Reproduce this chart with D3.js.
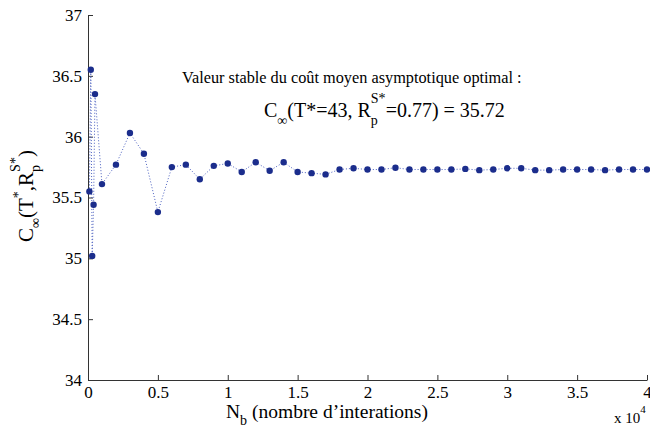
<!DOCTYPE html>
<html><head><meta charset="utf-8">
<script src="https://cdn.jsdelivr.net/npm/d3@7"></script>
<style>body{margin:0;background:#fff}svg{display:block}svg text{white-space:pre}</style>
</head><body>
<svg id="c" width="650" height="428"></svg>
<script>
// Data
const iterations = [100,200,300,400,500,1000,2000,3000,4000,5000,6000,7000,8000,9000,10000,
  11000,12000,13000,14000,15000,16000,17000,18000,19000,20000,21000,22000,23000,24000,25000,
  26000,27000,28000,29000,30000,31000,32000,33000,34000,35000,36000,37000,38000,39000,40000];
const cost = [35.55,36.55,35.02,35.44,36.35,35.61,35.77,36.03,35.86,35.38,35.75,35.77,35.65,35.76,35.78,
  35.71,35.79,35.72,35.79,35.71,35.70,35.69,35.73,35.74,35.73,35.73,35.745,35.73,35.73,35.73,
  35.73,35.735,35.725,35.73,35.74,35.74,35.725,35.725,35.73,35.73,35.73,35.725,35.73,35.73,35.73];
const xTicks = [0,5000,10000,15000,20000,25000,30000,35000,40000];
const yTicks = [34,34.5,35,35.5,36,36.5,37];

const FONT = "'Liberation Serif','Times New Roman',serif";
const svg = d3.select("#c");
const x = d3.scaleLinear().domain([0,40000]).range([88,647]);
const y = d3.scaleLinear().domain([34,37]).range([380,15]);

const gx = svg.append("g").attr("transform","translate(0,380)")
  .call(d3.axisBottom(x).tickValues(xTicks).tickSizeInner(-5).tickSizeOuter(0).tickPadding(6)
    .tickFormat(d => d3.format("")(d/10000)));
const gy = svg.append("g").attr("transform","translate(88,0)")
  .call(d3.axisLeft(y).tickValues(yTicks).tickSizeInner(-5).tickSizeOuter(0).tickPadding(6)
    .tickFormat(d => d3.format("")(d)));
[gx,gy].forEach(g=>{
  g.selectAll("path,line").attr("stroke","#333").attr("stroke-width",1);
  g.selectAll("text").attr("font-family",FONT).attr("font-size",17).attr("fill","#000");
});

const pts = iterations.map((d,i)=>[d,cost[i]]);
svg.append("path").datum(pts)
  .attr("d", d3.line().x(d=>x(d[0])).y(d=>y(d[1])))
  .attr("fill","none").attr("stroke","#4a5fc0").attr("stroke-width",1).attr("stroke-dasharray","1,2");
svg.append("g").selectAll("circle").data(pts).join("circle")
  .attr("cx",d=>x(d[0])).attr("cy",d=>y(d[1])).attr("r",3.2).attr("fill","#1b2d8c");

// rich text helper
function rich(g, x0, y0, size, pieces){
  let cx = x0;
  pieces.forEach(p=>{
    if (p.stack){
      let w = 0;
      p.stack.forEach(s=>{
        const t = g.append("text").attr("x",cx).attr("y",y0+s.dy).attr("font-family",FONT)
          .attr("font-size",s.size).text(s.t);
        w = Math.max(w, t.node().getComputedTextLength());
      });
      cx += w;
    } else {
      const t = g.append("text").attr("x",cx).attr("y",y0+(p.dy||0)).attr("font-family",FONT)
        .attr("font-size",p.size||size).text(p.t);
      cx += t.node().getComputedTextLength();
    }
  });
  return cx - x0;
}

// Annotation
svg.append("text").attr("x",182).attr("y",83).attr("font-family",FONT).attr("font-size",16.3)
  .text("Valeur stable du coût moyen asymptotique optimal :");
const ann = svg.append("g");
rich(ann, 264, 117, 20, [
  {t:"C"},{t:"\u221E",dy:8,size:14},{t:"(T*=43, R"},
  {stack:[{t:"S*",dy:-14,size:14},{t:"p",dy:8,size:14}]},
  {t:"=0.77) = 35.72"}
]);

// Y label
const yl = svg.append("g").attr("transform","translate(33,242) rotate(-90)");
rich(yl, 0, 0, 21, [
  {t:"C"},{t:"\u221E",dy:7,size:14},{t:"(T"},{t:"*",dy:-10,size:14},{t:",R"},
  {stack:[{t:"S*",dy:-13,size:14},{t:"p",dy:7,size:14}]},{t:")"}
]);

// X label
const xl = svg.append("g");
rich(xl, 226, 418, 19.5, [
  {t:"N"},{t:"b",dy:7,size:14},{t:" (nombre d\u2019interations)"}
]);
// multiplier
const mx = svg.append("g");
rich(mx, 614, 423, 15, [{t:"x 10"},{t:"4",dy:-10,size:11}]);
</script>
</body></html>
